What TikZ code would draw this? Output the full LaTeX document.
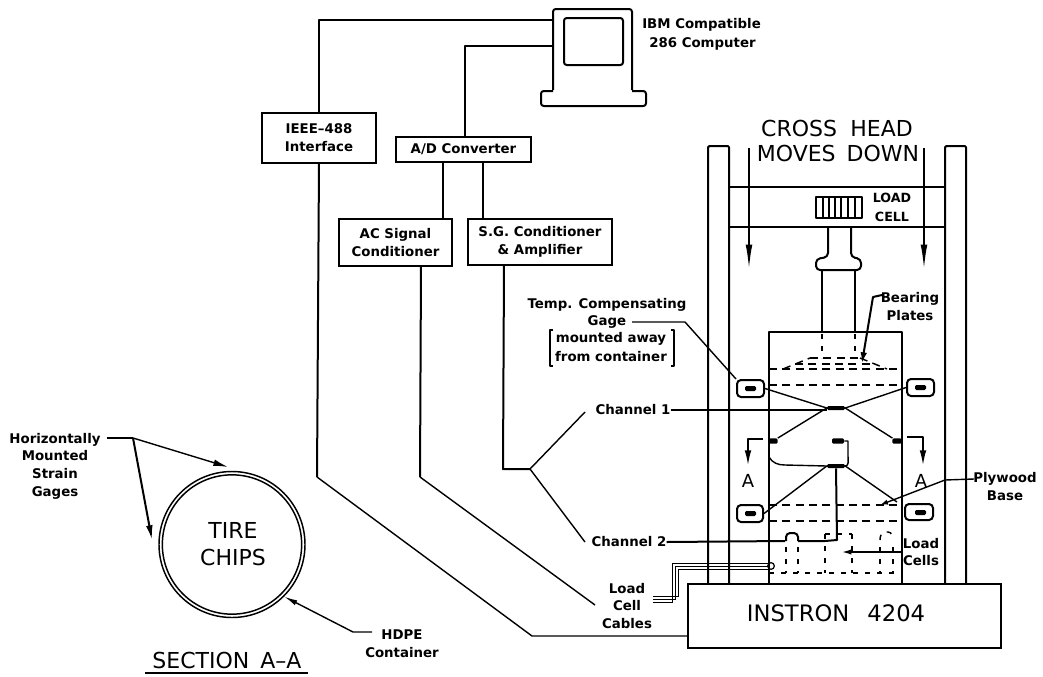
\documentclass[tikz,border=0pt]{standalone}
\usepackage{fontspec}
\setmainfont{DejaVu Sans}
\usetikzlibrary{arrows.meta}
\tikzset{
  wire/.style={line width=1.5pt,line join=round},
  fine/.style={line width=1.05pt,line join=round},
  dashline/.style={line width=1.1pt,dash pattern=on 6pt off 4pt},
  cutline/.style={line width=1.1pt,dash pattern=on 4pt off 5pt},
  sbox/.style={draw,line width=1.5pt,inner sep=0pt,align=center,font=\fontsize{10}{13.5}\selectfont\bfseries},
  lab/.style={inner sep=0pt,align=center,font=\fontsize{10}{13.3}\selectfont\bfseries},
  big/.style={inner sep=0pt,align=center,font=\fontsize{16.5}{20}\selectfont},
  longtip/.style={-{Latex[length=19pt,width=5pt]}},
  shorttip/.style={-{Latex[length=11pt,width=5pt]}},
  pellet/.style={fill=black,rounded corners=1pt},
  gage/.style={draw,line width=1.5pt,rounded corners=3pt,inner sep=0pt},
}
\begin{document}
\begin{tikzpicture}[x=0.75pt,y=-0.75pt]
\useasboundingbox (0,0) rectangle (1043,676);
% computer
\coordinate (cl) at (553,20); \coordinate (cm) at (553,46);
\draw[wire,rounded corners=2pt] (553,90) -- (553,9) -- (632,9) -- (632,90);
\draw[wire,rounded corners=2pt] (553,91) -- (541,91) -- (541,106) -- (646,106) -- (646,91) -- (632,91);
\draw[wire,rounded corners=2pt] (564,18) rectangle (623,65);
\node[lab,anchor=west] (ibm) at (642,25) {IBM Compatible};
\node[lab,anchor=west] (c286) at (649,44) {286 Computer};
% boxes
\node[sbox,minimum width=85.5pt,minimum height=37.5pt] (ieee) at (319,138) {IEEE--488\\Interface};
\node[sbox,minimum width=101.25pt,minimum height=18.75pt] (ad) at (463.5,149.5) {A/D Converter};
\node[sbox,minimum width=84.75pt,minimum height=35.25pt] (ac) at (395.5,242.5) {AC Signal\\Conditioner};
\node[sbox,minimum width=108pt,minimum height=34.5pt] (sg) at (540,242) {S.G. Conditioner\\\& Amplifier};
% connectors
\coordinate (ieeeT) at (319,113); \coordinate (ieeeB) at (319,163);
\coordinate (adT) at (465,137); \coordinate (adL) at (443,162); \coordinate (adR) at (483,162);
\coordinate (acT) at (443,219); \coordinate (acB) at (421,266);
\coordinate (sgT) at (483,219); \coordinate (sgB) at (504,265);
\coordinate (inst) at (687,636); \coordinate (cabEnd) at (595,605);
\coordinate (fork) at (530,469); \coordinate (ch1) at (585,412); \coordinate (ch2) at (585,542);
\draw[wire] (ieeeT) -- (319,20) -- (cl);
\draw[wire] (adT) -- (465,46) -- (cm);
\draw[wire] (adL) -- (acT);
\draw[wire] (adR) -- (sgT);
\draw[wire] (ieeeB) -- (317,477);
\draw[fine] (317,477) -- (532,636) -- (inst);
\draw[wire] (acB) -- (420,477);
\draw[fine] (420,477) -- (cabEnd);
\draw[wire] (sgB) -- (503,469) -- (fork);
\draw[fine] (ch1) -- (fork) -- (ch2);
% frame
\node[inner sep=0pt,draw,line width=1.5pt,minimum width=234.75pt,minimum height=48pt,anchor=north west] (instron) at (687,583) {};
\node[big,font=\fontsize{17}{20}\selectfont] (instxt) at (836,613) {INSTRON\hspace{0.8em}4204};
\draw[wire,rounded corners=1pt] (708,583) -- (708,146) -- (729,146) -- (729,583);
\draw[wire,rounded corners=1pt] (945,583) -- (945,146) -- (966,146) -- (966,583);
\draw[wire] (729,187) -- (945,187) (729,227) -- (945,227);
\node[big] (cross) at (837,128) {CROSS\hspace{0.6em}HEAD};
\node[big] (moves) at (838,153) {MOVES\hspace{0.5em}DOWN};
\coordinate (al) at (749,148); \coordinate (alb) at (749,270);
\coordinate (ar) at (924,148); \coordinate (arb) at (924,270);
\draw[wire,longtip] (al) -- (alb);
\draw[wire,longtip] (ar) -- (arb);
% load cell top
\draw[wire] (816,197) rectangle (862,218);
\draw[line width=1.2pt] (823,198) -- (823,217) (829,198) -- (829,217) (835,198) -- (835,217) (841,198) -- (841,217) (848,198) -- (848,217) (855,198) -- (855,217);
\node[lab,font=\fontsize{9.5}{14}\selectfont\bfseries] (lc) at (892,207.5) {LOAD\\CELL};
% piston
\draw[wire,rounded corners=3pt] (828,227) -- (828,257) -- (816,259) -- (816,270) -- (861,270) -- (861,259) -- (851,257) -- (851,227);
\draw[wire] (822,270) -- (822,332) (855,270) -- (855,332);
\draw[cutline] (822,334) -- (822,358) (855,334) -- (855,358);
% container
\draw[wire] (769,583) -- (769,332) -- (902,332) -- (902,583);
\draw[dashline] (769,369) -- (902,369);
\draw[dashline] (769,385) -- (902,385);
\draw[dashline] (810,358) -- (860,358) (795,364) -- (875,364);
\draw[dashline] (783,369) -- (810,358) (860,358) -- (887,369);
% gages
\node[gage,minimum width=20.25pt,minimum height=12.75pt] (g1) at (750.5,388.5) {};
\node[gage,minimum width=20.25pt,minimum height=12.75pt] (g2) at (920.5,387.5) {};
\node[gage,minimum width=19.5pt,minimum height=12.75pt] (g3) at (750,513.5) {};
\node[gage,minimum width=21pt,minimum height=12pt] (g4) at (919,512) {};
\fill[pellet] (745,386) rectangle (756,391);
\fill[pellet] (915,385) rectangle (926,390);
\fill[pellet] (745,511) rectangle (756,516);
\fill[pellet] (915,510) rectangle (926,515);
% channel nodes
\node[pellet,minimum width=13.5pt,minimum height=3pt,inner sep=0pt] (n1) at (836,408) {};
\node[pellet,minimum width=13.5pt,minimum height=3pt,inner sep=0pt] (n2) at (836,466) {};
\node[pellet,minimum width=7pt,minimum height=4pt,inner sep=0pt] (p1) at (773,441) {};
\node[pellet,minimum width=7pt,minimum height=4pt,inner sep=0pt] (p2) at (897,441) {};
\node[pellet,minimum width=9pt,minimum height=4pt,inner sep=0pt] (p3) at (838,441) {};
\draw[fine] (g1.east) -- (n1.west);
\draw[fine] (g2.west) -- (n1.east);
\draw[fine] (n1.west) -- (p1);
\draw[fine] (n1.east) -- (p2);
\draw[fine] (n2.west) -- (g3.east);
\draw[fine] (n2.east) -- (897,502);
\draw[fine] (p3) -- (848,441) -- (848,456) to[out=270,in=0] (n2.east);
\draw[fine] (769,457) to[out=-60,in=180] (785,465) -- (n2.west);
% cut marks
\coordinate (a1) at (748,465); \coordinate (a2) at (923,465);
\draw[fine,shorttip] (763,439) -- (748,439) -- (a1);
\draw[fine,shorttip] (907,437) -- (923,437) -- (a2);
\node[big,font=\fontsize{13.5}{16}\selectfont] (aL) at (748,481) {A};
\node[big,font=\fontsize{13.5}{16}\selectfont] (aR) at (921,481) {A};
% lower plates
\draw[dashline] (769,505) -- (902,505);
\draw[dashline] (769,521) -- (902,521);
\draw[cutline] (769,573) -- (902,573);
% load cells
\draw[wire] (786,541) -- (786,537) to[out=90,in=180] (790,533) -- (794,533) to[out=0,in=90] (798,537) -- (798,541);
\draw[cutline] (786,547) -- (786,573) (798,547) -- (798,573);
\draw[cutline] (825,534) -- (825,573) (852,534) -- (852,573) (825,534) -- (852,534);
\draw[cutline] (880,540) to[out=90,in=180] (885,532) -- (888,532) to[out=0,in=90] (893,540);
\draw[cutline] (880,547) -- (880,573) (893,547) -- (893,573);
% channel labels
\node[lab] (tc) at (607,305) {Temp. Compensating};
\node[lab] (tg) at (607,322) {Gage};
\node[lab] (tm) at (611,339) {mounted away};
\node[lab] (tf) at (611,357) {from container};
\draw[fine] (553,330) -- (550,330) -- (550,366) -- (553,366);
\draw[fine] (671,330) -- (674,330) -- (674,366) -- (671,366);
\draw[fine] (632,322) -- (685,322) -- (g1.north west);
\node[lab] (c1) at (633,410) {Channel 1};
\node[lab] (c2) at (629,542) {Channel 2};
\draw[fine] (c1.east) -- (n1.west |- c1);
\draw[wire] (c2.east) -- (785,541) (798,541) -- (825,541) -- (837,540) -- (n2.south);
% bearing plates
\node[lab] (bp) at (910,306.5) {Bearing\\Plates};
\draw[wire,-{Latex[length=8pt,width=5pt]}] (882,295) -- (873,297) -- (862,363);
% plywood
\node[lab] (pb) at (1005,486.5) {Plywood\\Base};
\draw[fine,-{Latex[length=6pt,width=4pt]}] (974,479) -- (945,480) -- (880,505);
% load cells label
\node[lab] (lcl) at (921,552) {Load\\Cells};
\draw[fine,-{Latex[length=7pt,width=4pt]}] (902,552) -- (842,552);
% cables
\foreach \d in {0,3,6}{
  \draw[line width=0.55pt] (653,{596+\d}) -- ({678-\d},{596+\d}) -- ({678-\d},{569-\d}) -- (769,{569-\d});
}
\draw[line width=0.9pt] (771,566) circle (2.5pt);
\node[lab] (lcc) at (627,606) {Load\\Cell\\Cables};
% section
\node[circle,draw,line width=1.1pt,minimum size=109.5pt,inner sep=0pt] (outer) at (232,544.5) {};
\node[circle,draw,line width=1.1pt,minimum size=104.5pt,inner sep=0pt] (inner) at (232,544.5) {};
\node[big] (tire) at (233,544) {TIRE\\CHIPS};
\node[big] (sec) at (227,660) {SECTION\hspace{0.5em}A--A};
\draw[line width=1pt] (145,673) -- (308,673);
\node[lab] (hz) at (55,466) {Horizontally\\Mounted\\Strain\\Gages};
\coordinate (hzj) at (133,438);
\draw[fine] (107,438) -- (hzj);
\draw[fine,shorttip] (hzj) -- (228,467);
\draw[wire,shorttip] (hzj) -- (152,540);
\node[lab] (hd) at (402,644) {HDPE\\Container};
\draw[fine,{Latex[length=10pt,width=4pt]}-] (outer.-45) -- (353,632) -- (372,632);
\end{tikzpicture}
\end{document}
